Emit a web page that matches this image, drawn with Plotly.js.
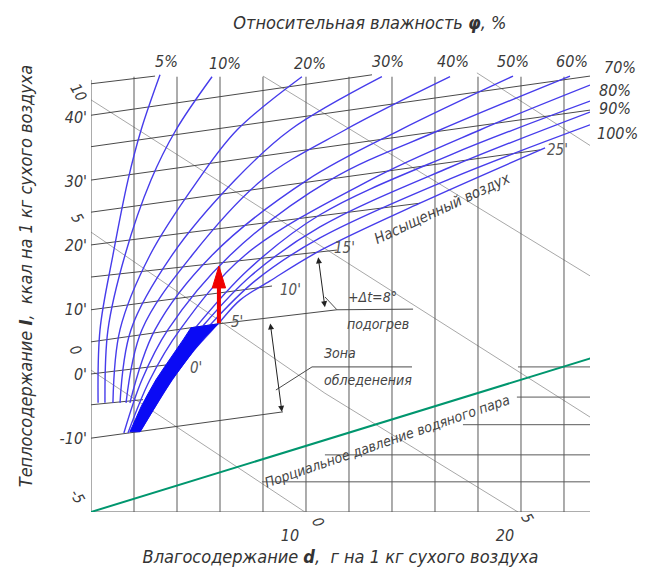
<!DOCTYPE html>
<html><head><meta charset="utf-8">
<script src="https://cdn.plot.ly/plotly-3.0.1.min.js"></script>
<style>html,body{margin:0;padding:0;background:#fff}#chart{width:650px;height:570px}</style>
</head><body><div id="chart"></div>
<script>
// x = moisture content d (g per kg dry air), y = heat content I (kcal per kg dry air)

// relative humidity curves
const rhCurveNames = ['5%','10%','20%','30%','40%','50%','60%','70%','80%','90%','100%','saturated'];
const rhCurveD = [
  [3.21,2.33,1.72,1.02,0.42,0.33],
  [5.63,3.95,2.79,1.58,0.79,0.65],
  [9.81,6.79,4.98,2.74,1.35,1.02],
  [13.53,9.26,6.70,3.77,1.86,1.35],
  [16.70,11.81,7.95,4.70,2.37,1.63],
  [19.63,14.37,10.05,5.63,2.98,1.81],
  [22.28,16.23,11.12,6.47,3.58,2.37,1.53],
  [23.21,18.09,12.98,7.16,4.14,2.74,1.72],
  [23.21,16.70,10.65,7.30,4.88],
  [23.21,16.70,10.65,7.44,5.21],
  [23.21,16.70,10.65,7.63,5.53],
  [21.12,15.30,10.65,8.33,6.93,5.91,4.79,3.77,2.98,2.28]
];
const rhCurveI = [
  [46.6,38.0,30.2,18.5,6.9,-4.5],
  [46.3,38.0,30.2,18.5,6.9,-4.5],
  [46.3,38.0,30.2,18.5,6.9,-4.5],
  [46.3,38.0,30.2,18.5,6.9,-4.5],
  [46.3,38.0,30.2,18.5,6.9,-4.5],
  [46.4,38.0,30.2,18.5,6.9,-4.5],
  [46.4,38.0,30.2,18.5,6.9,-0.9,-9.2],
  [45.0,38.0,30.2,18.5,6.9,-0.9,-9.2],
  [42.5,34.1,24.8,16.2,7.3],
  [40.8,32.2,22.9,15.3,7.5],
  [38.8,30.4,21.2,14.5,7.6],
  [35.2,26.6,19.2,14.5,11.5,7.8,3.7,-0.9,-5.1,-9.0]
];
// humidity labels
const rhTopLabels = ['5%','10%','20%','30%','40%','50%','60%'];
const rhTopLabelD = [3.53,6.23,10.19,13.81,16.84,19.63,22.37];
const rhTopLabelI = [48.6,48.4,48.4,48.6,48.6,48.6,48.6];
const rhSideLabels = ['70%','80%','90%','100%'];
const rhSideLabelPaperX = [1.060,1.050,1.050,1.056];
const rhSideLabelI = [47.7,44.2,41.4,37.5];

// isotherms (temperature, °C)
const isoTemps = [45,40,35,30,25,20,15,10,5,0,-5,-10];
const isoD = [[0,2.98],[0,13.07],[0,23.21],[0,23.21],[0,20.88],[0,15.30],[0,11.44],[0,8.42],[0,5.91,11.44,14.98],[0,3.49],[0,2.42],[0,8.93]];
const isoI = [[45.2,46.4],[40.3,46.6],[35.4,46.4],[30.2,41.1],[25.2,34.9],[20.1,26.6],[15.1,19.3],[10.0,13.7],[5.0,7.8,10.0,10.1],[0,1.4],[-4.8,-4.0],[-10.0,-5.9]];
const isoEndLabels = ["25'","15'","10'","5'","0'"];
const isoEndLabelD = [21.72,11.81,9.26,6.79,4.88];
const isoEndLabelI = [34.9,19.6,13.1,8.1,0.9];

// axis ticks
const yTickVals = [-10,0,10,20,30,40];
const yTickText = ["-10'","0'","10'","20'","30'","40'"];
const xTickVals = [10,20];
const xTickText = ['10','20'];

// enthalpy (grey, slanted) lines
const enthD = [[0,23.30],[8.00,23.30],[17.95,23.30],[0,10.88,19.86],[0,9.95]];
const enthI = [[42.7,-6.9],[46.4,15.1],[46.9,35.4],[22.1,-3.0,-21.5],[0.6,-21.5]];
const enthLeftLabels = ['10','5','0','-5'];
const enthLeftPaperX = [-0.026,-0.028,-0.032,-0.028];
const enthLeftI = [43.9,24.3,3.7,-19.0];
const enthBottomLabels = ['0','5'];
const enthBottomD = [10.56,20.28];
const enthBottomPaperY = [-0.021,-0.013];

// grid
const dGrid = [2,4,6,8,10,12,14,16,18,20,22];
const gridTopI = 46.3, gridBottomI = -21.5, frameRightD = 23.21, frameTopI = 45.8;
const pGridI = [1.1,-3.6,-7.9,-12.6,-16.8];
const pGridStartD = [19.86,19.81,17.30,10.88,7.95];

// partial pressure of water vapour
const vapourD = [0,23.30];
const vapourI = [-21.5,2.5];

// icing zone band (left edge up, right edge down)
const iceZoneD = [1.81,2.05,2.33,2.65,3.02,3.44,3.91,4.28,4.65, 5.91,5.35,4.79,4.28,3.77,3.35,2.98,2.60,2.28,1.81];
const iceZoneI = [-9.0,-7.2,-5.1,-3.1,-0.9,1.2,3.4,5.3,7.2, 7.8,5.9,3.7,1.4,-0.9,-3.1,-5.1,-7.2,-9.0,-9.0];

// heating arrow (red)
const heatShaftD = [5.95,5.95];
const heatShaftI = [7.9,13.6];
const heatHeadD = [5.64,5.95,6.26,5.64];
const heatHeadI = [13.4,16.8,13.4,13.4];

// dimension arrows and leaders
const dimArrows = [ {d0:10.56,i0:18.4,d1:10.88,i1:10.4}, {d0:8.33,i0:8.1,d1:8.88,i1:-5.9} ];
const leaderD = [[8.60,10.28,14.93],[10.88,11.44]];
const leaderI = [[-2.5,1.1,1.1],[12.0,10.0]];

// notes
const notes = ['Насыщенный воздух','+Δt=8°','подогрев','Зона','обледенения','Порциальное давление водяного пара'];
const noteD = [16.37,13.07,13.35,11.58,12.88,13.77];
const noteI = [25.9,12.0,7.8,3.3,-0.9,-10.4];
const noteAngle = [-25,0,0,0,0,-19];
const noteSize = [15,14,14,14,14,14];

// ---------------- drawing ----------------
const FONT = 'Liberation Sans Narrow, DejaVu Sans Condensed, Liberation Sans, sans-serif';
const TXT = '#3a3a3a';
const traces = [];
function segTrace(listD, listI, color, width){
  const x=[],y=[];
  listD.forEach((arr,k)=>{ arr.forEach((v,j)=>{x.push(v);y.push(listI[k][j]);}); x.push(null); y.push(null); });
  return {type:'scatter',mode:'lines',x:x,y:y,line:{color:color,width:width},hoverinfo:'skip',showlegend:false,connectgaps:false};
}
traces.push(segTrace(enthD, enthI, '#a8a8a8', 1));
const vD = dGrid.map(d=>[d,d]);
const vI = dGrid.map(()=>[gridBottomI,gridTopI]);
vD.push([0,0]); vI.push([gridBottomI,frameTopI]);
vD.push([0,frameRightD]); vI.push([gridBottomI,gridBottomI]);
traces.push(segTrace(vD, vI, '#5a5a5a', 1));
traces.push(segTrace(pGridStartD.map(d=>[d,frameRightD]), pGridI.map(i=>[i,i]), '#5a5a5a', 1));
traces.push(segTrace(isoD, isoI, '#4a4a4a', 1));
traces.push(segTrace(leaderD, leaderI, '#4a4a4a', 1));
traces.push({type:'scatter',mode:'lines',x:vapourD,y:vapourI,line:{color:'rgb(0,150,110)',width:2},hoverinfo:'skip',showlegend:false});
rhCurveD.forEach((xs,k)=>{
  traces.push({type:'scatter',mode:'lines',name:rhCurveNames[k],x:xs,y:rhCurveI[k],line:{color:'rgb(70,60,235)',width:1.4,shape:'spline',smoothing:1},hoverinfo:'skip',showlegend:false});
});
traces.push({type:'scatter',mode:'lines',x:iceZoneD,y:iceZoneI,fill:'toself',fillcolor:'rgb(10,10,245)',line:{color:'rgb(10,10,245)',width:1},hoverinfo:'skip',showlegend:false});
traces.push({type:'scatter',mode:'lines',x:heatShaftD,y:heatShaftI,line:{color:'rgb(240,0,0)',width:4},hoverinfo:'skip',showlegend:false});
traces.push({type:'scatter',mode:'lines',x:heatHeadD,y:heatHeadI,fill:'toself',fillcolor:'rgb(240,0,0)',line:{color:'rgb(240,0,0)',width:1},hoverinfo:'skip',showlegend:false});

const ann = [];
const f = (s,c)=>({family:FONT,size:s,color:c||TXT,style:'italic'});
const base = {showarrow:false,xanchor:'center',yanchor:'middle'};
rhTopLabels.forEach((t,k)=>ann.push(Object.assign({x:rhTopLabelD[k],y:rhTopLabelI[k],xref:'x',yref:'y',text:t,font:f(16)},base)));
rhSideLabels.forEach((t,k)=>ann.push(Object.assign({x:rhSideLabelPaperX[k],y:rhSideLabelI[k],xref:'paper',yref:'y',text:t,font:f(16)},base)));
isoEndLabels.forEach((t,k)=>ann.push(Object.assign({x:isoEndLabelD[k],y:isoEndLabelI[k],xref:'x',yref:'y',text:t,font:f(15,'#555')},base)));
enthLeftLabels.forEach((t,k)=>ann.push(Object.assign({x:enthLeftPaperX[k],y:enthLeftI[k],xref:'paper',yref:'y',text:t,textangle:60,font:f(15)},base)));
enthBottomLabels.forEach((t,k)=>ann.push(Object.assign({x:enthBottomD[k],y:enthBottomPaperY[k],xref:'x',yref:'paper',text:t,textangle:60,font:f(15)},base)));
notes.forEach((t,k)=>ann.push(Object.assign({x:noteD[k],y:noteI[k],xref:'x',yref:'y',text:t,textangle:noteAngle[k],font:f(noteSize[k],'#444')},base)));
dimArrows.forEach(a=>ann.push({x:a.d1,y:a.i1,ax:a.d0,ay:a.i0,xref:'x',yref:'y',axref:'x',ayref:'y',text:'',showarrow:true,arrowhead:2,arrowside:'end+start',arrowsize:1.2,arrowwidth:1,arrowcolor:'#222'}));

const layout = {
  width:650,height:570,
  margin:{l:91,r:60,t:40,b:58,pad:0},
  paper_bgcolor:'#fff',plot_bgcolor:'#fff',
  showlegend:false,
  title:{text:'Относительная влажность <b>φ</b>, %',x:0.569,xanchor:'center',y:0.961,yanchor:'middle',font:f(18,'#333')},
  xaxis:{range:[0,frameRightD],showgrid:false,zeroline:false,showline:false,ticks:'',
    tickvals:xTickVals,ticktext:xTickText,tickfont:f(16),ticklabelshift:-16,ticklabelstandoff:12,
    title:{text:'Влагосодержание <b>d</b>,&nbsp; г на 1 кг сухого воздуха',font:f(18,'#333'),standoff:6}},
  yaxis:{range:[gridBottomI,52.02],showgrid:false,zeroline:false,showline:false,ticks:'',
    tickvals:yTickVals,ticktext:yTickText,tickfont:f(16),ticklabelstandoff:3,
    title:{text:'Теплосодержание <b>I</b>,&nbsp; ккал на 1 кг сухого воздуха',font:f(18,'#333'),standoff:22}},
  annotations:ann
};
Plotly.newPlot('chart',traces,layout,{staticPlot:true,displayModeBar:false});
</script></body></html>
